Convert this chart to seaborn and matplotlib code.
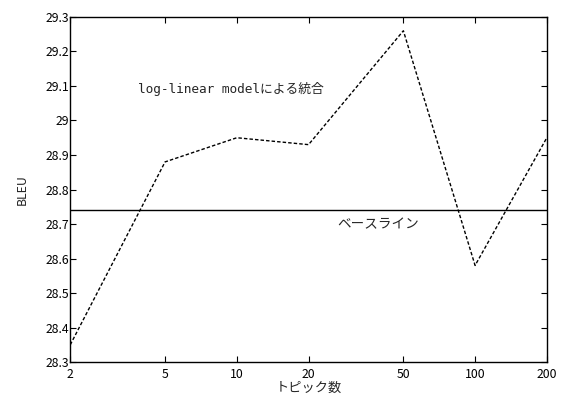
import matplotlib
matplotlib.use("Agg")
import matplotlib.pyplot as plt
import seaborn as sns
import pandas as pd
from matplotlib.ticker import FixedLocator, FixedFormatter, NullLocator

# data
topics = [2, 5, 10, 20, 50, 100, 200]
bleu_loglinear = [28.35, 28.88, 28.95, 28.93, 29.26, 28.58, 28.95]
baseline_bleu = 28.74
tick_labels = ["2", "5", "10", "20", "50", "100", "200"]

sns.set_style("ticks")
plt.rcParams['font.family'] = ['Noto Sans CJK JP', 'DejaVu Sans']

df = pd.DataFrame({"topics": topics, "bleu": bleu_loglinear})
df_base = pd.DataFrame({"topics": [topics[0], topics[-1]],
                        "bleu": [baseline_bleu, baseline_bleu]})

fig, ax = plt.subplots(figsize=(5.62, 3.94), dpi=100)
fig.subplots_adjust(left=0.125, right=0.973, top=0.957, bottom=0.081)

sns.lineplot(data=df, x="topics", y="bleu", ax=ax, color="black",
             linewidth=1.0, linestyle=(0, (2.5, 1.5)))
sns.lineplot(data=df_base, x="topics", y="bleu", ax=ax, color="black",
             linewidth=1.0)

ax.set_xscale("log")
ax.set_xlim(2, 200)
ax.set_ylim(28.3, 29.3)
ax.xaxis.set_major_locator(FixedLocator(topics))
ax.xaxis.set_major_formatter(FixedFormatter(tick_labels))
ax.xaxis.set_minor_locator(NullLocator())
ax.set_yticks([28.3, 28.4, 28.5, 28.6, 28.7, 28.8, 28.9, 29.0, 29.1, 29.2, 29.3])
ax.set_yticklabels(["28.3", "28.4", "28.5", "28.6", "28.7", "28.8", "28.9",
                    "29", "29.1", "29.2", "29.3"])
ax.tick_params(direction="in", top=True, right=True, length=4, width=0.8,
               labelsize=8.8, colors="black")
ax.tick_params(axis="y", pad=1)
ax.tick_params(axis="x", pad=4)
for s in ax.spines.values():
    s.set_linewidth(1.0)
    s.set_color("black")

ax.set_xlabel("トピック数", fontsize=9.5, labelpad=1)
ax.set_ylabel("BLEU", fontsize=8.8, labelpad=12)

ax.text(3.85, 29.09, "log-linear modelによる統合", fontsize=9.2,
        family=['DejaVu Sans Mono', 'Noto Sans CJK JP'], va="center", ha="left")
ax.text(26.5, 28.70, "ベースライン", fontsize=9.8, va="center", ha="left")

fig.savefig("out.png", dpi=100)
